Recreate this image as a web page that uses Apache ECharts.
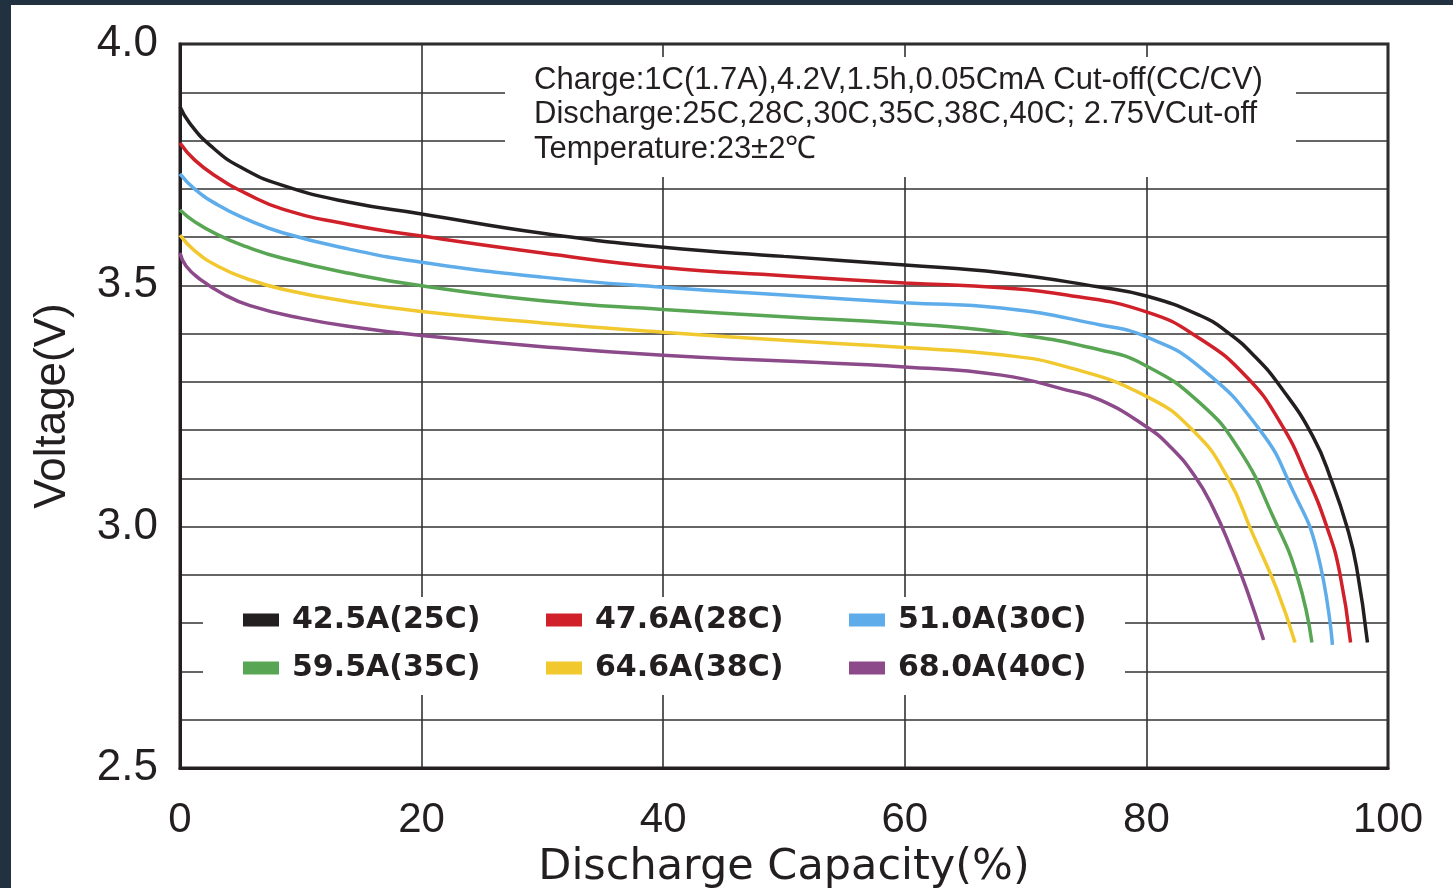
<!DOCTYPE html>
<html>
<head>
<meta charset="utf-8">
<title>Discharge curves</title>
<script src="https://cdn.jsdelivr.net/npm/echarts@6/dist/echarts.min.js"></script>
<style>
  html, body { margin: 0; padding: 0; background: #22313f; }
  #chart { position: absolute; left: 11px; top: 5px; width: 1442px; height: 883px; background: #fff; }
</style>
</head>
<body>
<div id="chart"></div>
<script>
// [capacity %, voltage V]
const names = ['42.5A(25C)', '47.6A(28C)', '51.0A(30C)', '59.5A(35C)', '64.6A(38C)', '68.0A(40C)']
const colors = ['#231f20', '#d0212a', '#5eadea', '#58a553', '#f1c82e', '#8c4a8b']

const c25 = [[0, 3.87], [0.8, 3.836], [2.5, 3.79], [5, 3.745], [8.5, 3.707], [14, 3.672], [20, 3.648], [30, 3.608],
  [40, 3.579], [50, 3.56], [60, 3.542], [68, 3.526], [76, 3.497], [80, 3.478], [84.4, 3.438], [86.7, 3.403],
  [89, 3.352], [91.1, 3.29], [93.8, 3.186], [95.4, 3.09], [96.6, 3.0], [97.4, 2.916], [98.3, 2.76]]
const c28 = [[0, 3.795], [1.2, 3.76], [3.1, 3.724], [5.5, 3.69], [8.5, 3.658], [14, 3.626], [20, 3.602], [30, 3.567],
  [40, 3.537], [50, 3.52], [60, 3.505], [68, 3.495], [73.4, 3.48], [80, 3.445], [84.4, 3.39], [88.3, 3.31],
  [91.1, 3.215], [93.3, 3.103], [95, 2.995], [96, 2.905], [96.9, 2.76]]
const c30 = [[0, 3.731], [1.2, 3.70], [3.1, 3.667], [5.5, 3.637], [8.5, 3.609], [14, 3.575], [20, 3.548], [30, 3.517],
  [40, 3.496], [50, 3.48], [60, 3.464], [68, 3.453], [76.2, 3.418], [80, 3.393], [84.4, 3.331], [89.4, 3.2],
  [92.1, 3.076], [94.1, 2.952], [95.4, 2.755]]
const c35 = [[0, 3.656], [1.2, 3.632], [3.1, 3.605], [5.5, 3.58], [8.5, 3.556], [14, 3.525], [20, 3.499], [30, 3.468],
  [40, 3.45], [50, 3.435], [60, 3.421], [68, 3.403], [76.2, 3.366], [80, 3.333], [84.4, 3.257], [87.7, 3.159],
  [90.5, 3.02], [92.5, 2.896], [93.7, 2.76]]
const c38 = [[0, 3.604], [1.2, 3.572], [3.1, 3.54], [5.5, 3.514], [8.5, 3.492], [14, 3.466], [20, 3.446], [30, 3.422],
  [40, 3.403], [50, 3.386], [60, 3.371], [68, 3.356], [73.4, 3.331], [80, 3.27], [83.9, 3.198], [86.7, 3.103],
  [88.8, 2.985], [90.8, 2.87], [92.3, 2.76]]
const c40 = [[0, 3.567], [0.5, 3.54], [1.7, 3.512], [3.5, 3.483], [5.8, 3.458], [10, 3.432], [15.1, 3.411], [20, 3.396],
  [30, 3.373], [40, 3.355], [50, 3.343], [60, 3.331], [68, 3.314], [73.4, 3.283], [76.2, 3.262], [80, 3.207],
  [82, 3.165], [84, 3.105], [85.5, 3.04], [87, 2.955], [88.3, 2.87], [89.7, 2.765]]

const curves = [c25, c28, c30, c35, c38, c40]

const noteLines = [
  'Charge:1C(1.7A),4.2V,1.5h,0.05CmA Cut-off(CC/CV)',
  'Discharge:25C,28C,30C,35C,38C,40C; 2.75VCut-off',
  'Temperature:23±2℃'
]

const ink = '#231f20'
const legendIcon = 'path://M0,0h36v13h-36z M43.99,0h0.01v0.01h-0.01z'

const makeLegend = (left, items) => ({
  orient: 'vertical',
  left: left,
  top: 598,
  padding: 0,
  itemGap: 14,
  itemWidth: 44,
  itemHeight: 13,
  icon: legendIcon,
  selectedMode: false,
  itemStyle: { borderWidth: 0 },
  textStyle: {
    fontFamily: 'DejaVu Sans',
    fontWeight: 'bold',
    fontSize: 30,
    lineHeight: 34,
    color: ink
  },
  data: items
})

const option = {
  animation: false,
  backgroundColor: '#fff',
  title: {
    text: noteLines.join('\n'),
    left: 523,
    top: 58,
    padding: 0,
    textStyle: {
      fontFamily: 'Liberation Sans',
      fontWeight: 'normal',
      fontSize: 31,
      lineHeight: 34.5,
      color: ink
    }
  },
  legend: [
    makeLegend(232, [names[0], names[3]]),
    makeLegend(535, [names[1], names[4]]),
    makeLegend(838, [names[2], names[5]])
  ],
  grid: {
    left: 169,
    top: 39,
    right: 65,
    bottom: 120,
    outerBoundsMode: 'none',
    show: true,
    borderColor: ink,
    borderWidth: 3,
    backgroundColor: 'transparent'
  },
  xAxis: {
    type: 'value',
    min: 0,
    max: 100,
    interval: 20,
    name: 'Discharge Capacity(%)',
    nameLocation: 'middle',
    nameGap: 76,
    nameTextStyle: { fontFamily: 'DejaVu Sans', fontSize: 43, color: ink },
    axisLine: { show: true, lineStyle: { color: ink, width: 3 } },
    axisTick: { show: false },
    axisLabel: { margin: 31, fontFamily: 'Liberation Sans', fontSize: 42, color: ink },
    splitLine: { show: true, lineStyle: { color: '#333', width: 1.6 } }
  },
  yAxis: {
    type: 'value',
    min: 2.5,
    max: 4.0,
    interval: 0.1,
    name: 'Voltage(V)',
    nameLocation: 'middle',
    nameGap: 105,
    nameTextStyle: { fontFamily: 'Liberation Sans', fontSize: 44, color: ink },
    axisLine: { show: true, lineStyle: { color: ink, width: 3 } },
    axisTick: { show: false },
    axisLabel: {
      margin: 22,
      fontFamily: 'Liberation Sans',
      fontSize: 44,
      color: ink,
      formatter: v => (Math.round(v * 10) % 5 === 0 ? v.toFixed(1) : '')
    },
    splitLine: { show: true, lineStyle: { color: '#333', width: 1.6 } }
  },
  graphic: [
    // white boxes that hide the grid behind the note and the legend
    { type: 'rect', z: 1, silent: true, shape: { x: 494, y: 52, width: 791, height: 120 }, style: { fill: '#fff' } },
    { type: 'rect', z: 1, silent: true, shape: { x: 192, y: 592, width: 922, height: 98 }, style: { fill: '#fff' } }
  ],
  series: curves.map((d, i) => ({
    name: names[i],
    type: 'line',
    data: d,
    color: colors[i],
    smooth: 0.5,
    showSymbol: false,
    lineStyle: { width: 3.5, color: colors[i] },
    z: 2
  }))
}

const chart = echarts.init(document.getElementById('chart'))
chart.setOption(option)
</script>
</body>
</html>
